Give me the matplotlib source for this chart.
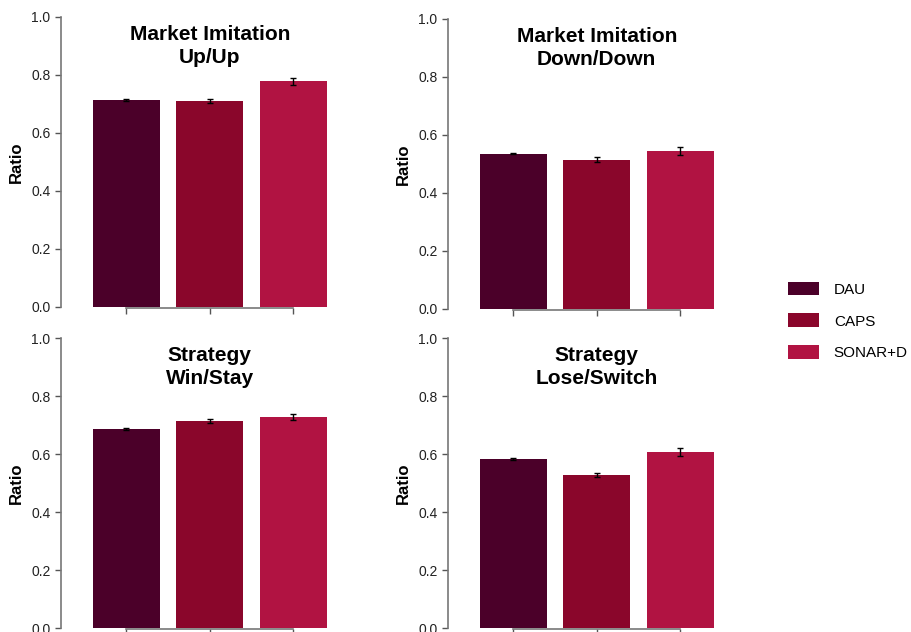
import matplotlib
matplotlib.use("Agg")
import matplotlib.pyplot as plt
from matplotlib.patches import Patch

plt.rcParams['font.family'] = ['Liberation Sans', 'DejaVu Sans']

# données
methodes = ['DAU', 'CAPS', 'SONAR+D']
couleurs = ['#4b0029', '#8a062b', '#b11342']

titres = ['Market Imitation\nUp/Up', 'Market Imitation\nDown/Down',
          'Strategy\nWin/Stay', 'Strategy\nLose/Switch']
ratios = [
    [0.714, 0.710, 0.779],
    [0.535, 0.515, 0.546],
    [0.686, 0.714, 0.728],
    [0.583, 0.527, 0.607],
]
erreurs = [
    [0.002, 0.006, 0.012],
    [0.002, 0.009, 0.014],
    [0.002, 0.008, 0.011],
    [0.002, 0.008, 0.014],
]
yticks = [0.0, 0.2, 0.4, 0.6, 0.8, 1.0]

fig = plt.figure(figsize=(9.12, 6.32), dpi=100)

W, H = 912, 632
# (gauche px, bas px) de chaque panneau
positions = [(61, 307), (448, 309), (61, 628), (448, 628)]
larg = 274 / W
haut = 290 / H

for k in range(4):
    gx, by = positions[k]
    ax = fig.add_axes([gx / W, 1 - by / H, larg, haut])
    x = range(len(methodes))
    ax.bar(x, ratios[k], width=0.8, color=couleurs, zorder=2)
    ax.errorbar(x, ratios[k], yerr=erreurs[k], fmt='none', ecolor='black',
                elinewidth=1, capsize=2.5, capthick=1, zorder=3)
    ax.set_xlim(-0.78, 2.5)
    ax.set_ylim(0, 1)
    ax.set_yticks(yticks)
    ax.set_yticklabels(['%.1f' % t for t in yticks])
    ax.set_xticks(list(x))
    ax.set_xticklabels([])
    for s in ['top', 'right']:
        ax.spines[s].set_visible(False)
    ax.spines['left'].set_bounds(0, 1)
    ax.spines['bottom'].set_bounds(0, 2)
    ax.spines['bottom'].set_position(('outward', 1))
    for s in ['left', 'bottom']:
        ax.spines[s].set_color('#777777')
        ax.spines[s].set_linewidth(1.2)
    ax.tick_params(axis='both', colors='#555555', length=4, width=1,
                   labelsize=10, labelcolor='#222222')
    ax.set_ylabel('Ratio', fontsize=12, fontweight='bold', labelpad=5)
    ax.text(1, 0.90, titres[k], ha='center', va='center', fontsize=15,
            fontweight='bold', linespacing=1.3)

handles = [Patch(facecolor=c, label=m) for c, m in zip(couleurs, methodes)]
fig.legend(handles=handles, loc='center left', bbox_to_anchor=(788 / W, 1 - 321 / H),
           frameon=False, fontsize=11, handlelength=2.0, handleheight=1.0,
           labelspacing=1.1, handletextpad=1.0, borderpad=0, borderaxespad=0)

fig.savefig('out.png', dpi=100)
